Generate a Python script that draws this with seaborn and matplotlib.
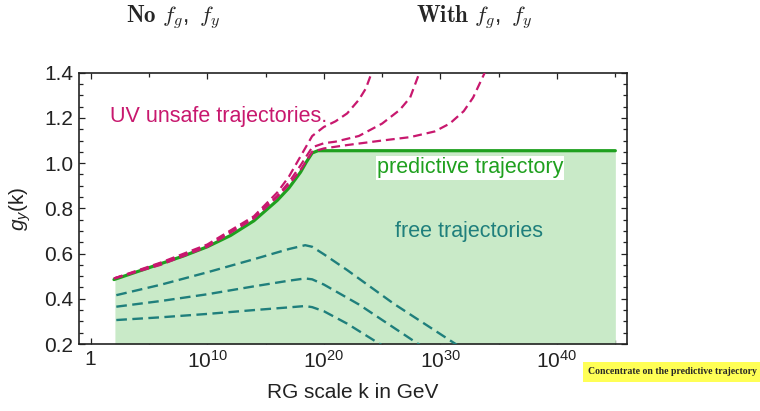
import numpy as np
import pandas as pd
import matplotlib
matplotlib.use("Agg")
import matplotlib.pyplot as plt
from matplotlib.ticker import FixedLocator, NullFormatter, MultipleLocator
import seaborn as sns

# ---------------- data (x given as log10(k / GeV)) ----------------
green_dec = [2, 4, 6, 8, 10, 12, 14, 16, 17, 18, 18.5, 19, 19.5, 45]
green_y = [0.485, 0.52, 0.555, 0.59, 0.63, 0.68, 0.745, 0.835, 0.89, 0.96, 1.005, 1.045, 1.055, 1.055]

m1_dec = [2, 6, 10, 14, 16, 17, 18, 19, 20, 21, 22, 23, 23.6, 24.1, 24.6]
m1_y = [0.49, 0.56, 0.64, 0.765, 0.87, 0.94, 1.03, 1.12, 1.16, 1.185, 1.22, 1.28, 1.33, 1.40, 1.48]

m2_dec = [2, 6, 10, 14, 16, 17, 18, 19, 20, 21, 23, 25, 26.5, 27.4, 28.2, 28.8]
m2_y = [0.49, 0.555, 0.635, 0.76, 0.855, 0.915, 0.99, 1.07, 1.088, 1.095, 1.12, 1.175, 1.235, 1.29, 1.40, 1.5]

m3_dec = [2, 6, 10, 14, 16, 17, 18, 19, 20, 22, 25, 27.4, 29.5, 30.8, 32, 32.8, 33.8, 34.4]
m3_y = [0.49, 0.55, 0.63, 0.755, 0.85, 0.905, 0.97, 1.05, 1.065, 1.08, 1.10, 1.115, 1.14, 1.175, 1.23, 1.29, 1.40, 1.5]

t1_dec = [2.2, 6, 10, 14, 17, 18.4, 19, 20, 22, 26, 31.3, 33]
t1_y = [0.416, 0.462, 0.517, 0.575, 0.62, 0.637, 0.63, 0.597, 0.527, 0.378, 0.2, 0.14]

t2_dec = [2.2, 6, 10, 14, 17, 18.4, 19, 20, 23, 28.1, 30]
t2_y = [0.365, 0.39, 0.42, 0.455, 0.48, 0.49, 0.486, 0.463, 0.375, 0.2, 0.14]

t3_dec = [2.2, 6, 10, 14, 17, 18.4, 19, 20, 22, 24.8, 26]
t3_y = [0.306, 0.318, 0.333, 0.35, 0.362, 0.368, 0.363, 0.345, 0.29, 0.2, 0.165]

fill_start_dec = 2.08
fill_end_dec = 45

xtick_dec = [0, 10, 20, 30, 40]
xtick_labels = ["1", "10$^{10}$", "10$^{20}$", "10$^{30}$", "10$^{40}$"]
xminor_dec = [5, 15, 25, 35, 45]
yticks = [0.2, 0.4, 0.6, 0.8, 1.0, 1.2, 1.4]

# ---------------- style ----------------
sns.set_theme(style="ticks")
plt.rcParams["font.family"] = ["Liberation Sans", "DejaVu Sans"]
plt.rcParams["mathtext.fontset"] = "custom"
plt.rcParams["mathtext.rm"] = "Liberation Sans"
plt.rcParams["mathtext.it"] = "Liberation Sans:italic"
plt.rcParams["mathtext.default"] = "regular"

MAGENTA = "#c8186e"
GREEN = "#1fa01f"
FILL = "#c9eac8"
TEAL = "#1f7f7c"

fig = plt.figure(figsize=(7.6, 4.11), dpi=100)
ax = fig.add_axes([79 / 760, 67 / 411, 548 / 760, 271.3 / 411])

def frame(dec, y):
    return pd.DataFrame({"k": np.power(10.0, np.array(dec, dtype=float)), "g": y})

gdf = frame(green_dec, green_y)
xf = np.power(10.0, np.linspace(fill_start_dec, fill_end_dec, 800))
yf = np.interp(np.log10(xf), green_dec, green_y)
ax.fill_between(xf, 0.2, yf, color=FILL, lw=0, zorder=1)

for dec, y in [(t1_dec, t1_y), (t2_dec, t2_y), (t3_dec, t3_y)]:
    sns.lineplot(data=frame(dec, y), x="k", y="g", ax=ax, color=TEAL, lw=1.7,
                 linestyle=(0, (4.5, 2.3)), sort=False, zorder=3)

sns.lineplot(data=gdf, x="k", y="g", ax=ax, color=GREEN, lw=2.3, sort=False, zorder=4)

for dec, y in [(m1_dec, m1_y), (m2_dec, m2_y), (m3_dec, m3_y)]:
    sns.lineplot(data=frame(dec, y), x="k", y="g", ax=ax, color=MAGENTA, lw=1.6,
                 linestyle=(0, (4, 2.2)), sort=False, zorder=5)

ax.set_xscale("log")
ax.set_xlim(10 ** -1.0, 10 ** 46.0)
ax.set_ylim(0.2, 1.4)
ax.xaxis.set_major_locator(FixedLocator([10.0 ** d for d in xtick_dec]))
ax.set_xticklabels(xtick_labels)
ax.xaxis.set_minor_locator(FixedLocator([10.0 ** d for d in xminor_dec]))
ax.xaxis.set_minor_formatter(NullFormatter())
ax.set_yticks(yticks)
ax.set_yticklabels([f"{v:.1f}" for v in yticks])
ax.yaxis.set_minor_locator(MultipleLocator(0.05))

ax.tick_params(which="both", direction="in", top=True, right=True, color="#222222",
               labelsize=15, labelcolor="#222222", width=0.9)
ax.tick_params(which="major", length=4.5, pad=4)
ax.tick_params(which="minor", length=3)
for s in ax.spines.values():
    s.set_linewidth(1.2)
    s.set_color("#222222")

ax.set_xlabel("RG scale k in GeV", fontsize=15, color="#222222")
ax.set_ylabel(r"$\mathit{g}_{\mathit{y}}$(k)", fontsize=15, color="#222222")
ax.xaxis.set_label_coords(0.5, -0.177)
ax.xaxis.label.set_va("center")
ax.yaxis.set_label_coords(-0.108, 0.5)
ax.yaxis.label.set_va("center")

ax.text(0.0566, 0.837, "UV unsafe trajectories.", transform=ax.transAxes, color=MAGENTA,
        fontsize=15.5, ha="left", va="center", zorder=6)
ax.text(0.7135, 0.649, "predictive trajectory", transform=ax.transAxes, color=GREEN,
        fontsize=15.5, ha="center", va="center", zorder=6,
        bbox=dict(boxstyle="square,pad=0.05", fc="white", ec="none"))
ax.text(0.712, 0.413, "free trajectories", transform=ax.transAxes, color=TEAL,
        fontsize=15.5, ha="center", va="center", zorder=6)

fig.text(0.228, 0.956, r"$\mathbf{No}\ \mathit{f_g},\ \mathit{f_y}$", fontsize=16.5,
         ha="center", va="center", math_fontfamily="cm")
fig.text(0.624, 0.956, r"$\mathbf{With}\ \mathit{f_g},\ \mathit{f_y}$", fontsize=16.5,
         ha="center", va="center", math_fontfamily="cm")
fig.text(0.885, 0.095, "Concentrate on the predictive trajectory", fontsize=7,
         fontweight="bold", family=["Liberation Serif", "DejaVu Serif"], ha="center", va="center",
         bbox=dict(boxstyle="square,pad=0.55", fc="#ffff55", ec="none"))

fig.savefig("out.png", dpi=100)
